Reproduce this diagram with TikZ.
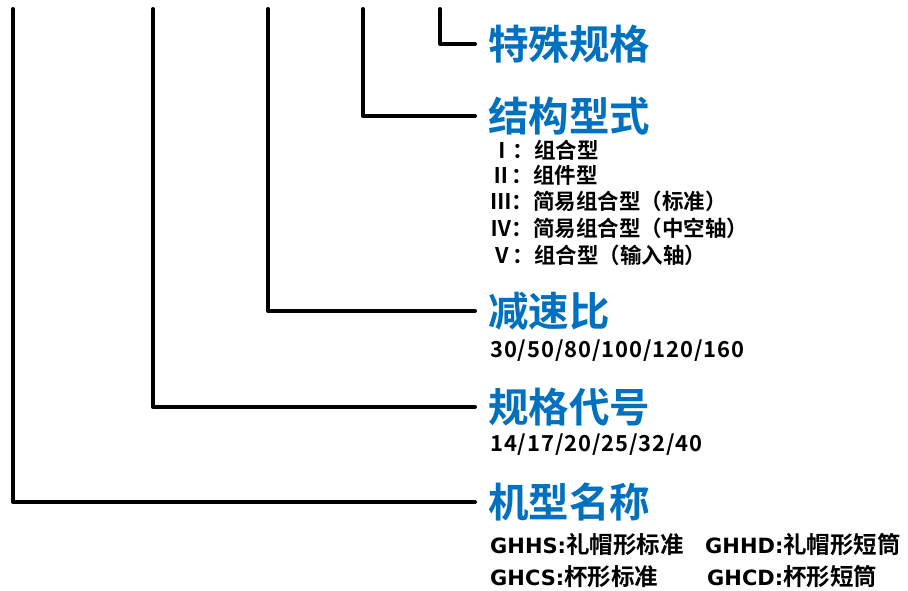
\documentclass[tikz,border=0pt]{standalone}
\usepackage{fontspec}
\setmainfont{Noto Sans CJK SC}[BoldFont={* Bold}]
\newfontfamily\cjkb{Noto Sans CJK SC Bold}
\newfontfamily\latb{Noto Sans CJK SC Bold}[LetterSpace=4]
\newfontfamily\latw{DejaVu Sans Bold}
\definecolor{hblue}{HTML}{0070C0}
\newcommand{\gw}[1]{{\latw\fontsize{21}{21}\selectfont #1}}
\begin{document}
\begin{tikzpicture}[x=1pt,y=-1pt,
  head/.style={anchor=west,inner sep=0pt,font=\cjkb\fontsize{40.5}{40.5}\selectfont,text=hblue},
  sub/.style={anchor=west,inner sep=0pt,font=\cjkb\fontsize{21.5}{21.5}\selectfont,text=black},
  model/.style={anchor=west,inner sep=0pt,font=\cjkb\fontsize{23.5}{23.5}\selectfont,text=black},
  num/.style={anchor=west,inner sep=0pt,font=\latb\fontsize{22}{22}\selectfont,text=black},
  conn/.style={line width=4pt,line cap=round,line join=round,shorten >=13pt}]
\useasboundingbox (0,0) rectangle (908,591);
% headings
\node[head] (h1) at (488,44) {特殊规格};
\node[head] (h2) at (488,116) {结构型式};
\node[head] (h3) at (488,311) {减速比};
\node[head] (h4) at (488,407) {规格代号};
\node[head] (h5) at (488,502) {机型名称};
% sub texts
\node[sub] (s1) at (491,150) {Ⅰ：组合型};
\node[sub] (s2) at (490,175) {Ⅱ：组件型};
\node[sub] (s3) at (490,201) {Ⅲ：简易组合型（标准）};
\node[sub] (s4) at (490,228) {Ⅳ：简易组合型（中空轴）};
\node[sub] (s5) at (491,255) {Ⅴ：组合型（输入轴）};
\node[num] (r1) at (490,351) {30/50/80/100/120/160};
\node[num] (r2) at (490,445) {14/17/20/25/32/40};
\node[model] (m1) at (490,545) {\gw{GHHS:}礼帽形标准};
\node[model] (m2) at (705,545) {\gw{GHHD:}礼帽形短筒};
\node[model] (m3) at (490,577) {\gw{GHCS:}杯形标准};
\node[model] (m4) at (707,577) {\gw{GHCD:}杯形短筒};
% connector tops
\coordinate (t1) at (440,9);
\coordinate (t2) at (363,9);
\coordinate (t3) at (268,9);
\coordinate (t4) at (153,9);
\coordinate (t5) at (13,9);
\draw[conn] (t1) |- (h1.west);
\draw[conn] (t2) |- (h2.west);
\draw[conn] (t3) |- (h3.west);
\draw[conn] (t4) |- (h4.west);
\draw[conn] (t5) |- (h5.west);
\end{tikzpicture}
\end{document}
